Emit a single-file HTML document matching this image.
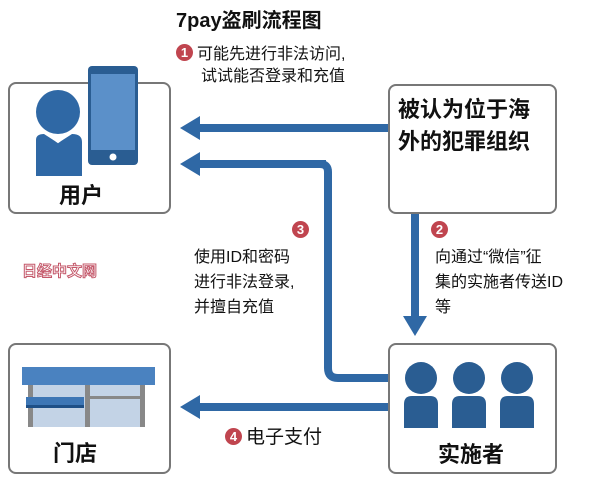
<!DOCTYPE html>
<html><head><meta charset="utf-8"><style>
body{margin:0;background:#fff;width:600px;height:489px;overflow:hidden;position:relative;font-family:"Liberation Sans","Noto Sans CJK SC",sans-serif;}
.t{position:absolute;color:#111;white-space:nowrap;}
.box{position:absolute;border:2px solid #777;border-radius:8px;background:#fff;box-sizing:border-box;}
.n{display:inline-block;width:17px;height:17px;border-radius:50%;background:#c0454f;color:#fff;font-size:13px;font-weight:bold;text-align:center;line-height:17px;vertical-align:2px;margin-right:4px;}
</style></head><body>
<div class="t" style="left:176px;top:4px;font-size:20px;font-weight:bold;">7pay盗刷流程图</div>
<div class="t" style="left:176px;top:44px;font-size:16px;line-height:22px;"><span class="n">1</span>可能先进行非法访问,<br><span style="padding-left:25px">试试能否登录和充值</span></div>

<div class="box" style="left:8px;top:82px;width:163px;height:132px;"></div>
<div class="box" style="left:388px;top:84px;width:169px;height:130px;"></div>
<div class="box" style="left:8px;top:343px;width:163px;height:131px;"></div>
<div class="box" style="left:388px;top:343px;width:169px;height:131px;"></div>

<svg style="position:absolute;left:0;top:0" width="600" height="489">
<rect x="78" y="60" width="70" height="20" fill="#fff"/>
<circle cx="58" cy="112" r="22" fill="#2f68a5"/>
<path d="M36 176 V140 Q36 134 44 134 L58 143 L72 134 Q82 134 82 142 V176Z" fill="#2f68a5"/>
<path d="M46 133 L58 142 L70 133" fill="none" stroke="#fff" stroke-width="2"/>
<rect x="88" y="66" width="50" height="99" rx="4" fill="#2a5d92"/>
<rect x="91" y="74" width="44" height="76" fill="#5b90c9"/>
<circle cx="113" cy="157" r="3.5" fill="#fff"/>
<g fill="#2f68a5">
<rect x="196" y="124" width="192" height="8"/><polygon points="180,128 200,116 200,140"/>
<rect x="196" y="160" width="130" height="8"/><polygon points="180,164 200,152 200,176"/>
<rect x="196" y="403" width="192" height="8"/><polygon points="180,407 200,395 200,419"/>
<rect x="411" y="214" width="8" height="104"/><polygon points="415,336 403,316 427,316"/>
</g>
<path d="M320 164 Q328 164 328 172 V368 Q328 378 338 378 H388" fill="none" stroke="#2f68a5" stroke-width="8"/>
<rect x="22" y="367" width="133" height="18" fill="#4a82c0"/>
<rect x="30" y="385" width="113" height="42" fill="#c3d3e6"/>
<rect x="28" y="385" width="5" height="42" fill="#888"/>
<rect x="85" y="385" width="5" height="42" fill="#888"/>
<rect x="140" y="385" width="5" height="42" fill="#888"/>
<rect x="88" y="396" width="54" height="3" fill="#888"/>
<rect x="26" y="397" width="58" height="10" fill="#3d76b5"/>
<rect x="26" y="405" width="58" height="3" fill="#1e4f86"/>
<g fill="#2a5d92">
<circle cx="421" cy="378" r="16"/><path d="M404 428 V404 Q404 396 412 396 H430 Q438 396 438 404 V428Z"/>
<circle cx="469" cy="378" r="16"/><path d="M452 428 V404 Q452 396 460 396 H478 Q486 396 486 404 V428Z"/>
<circle cx="517" cy="378" r="16"/><path d="M500 428 V404 Q500 396 508 396 H526 Q534 396 534 404 V428Z"/>
</g>
</svg>

<div class="t" style="left:59px;top:178px;font-size:22px;font-weight:bold;">用户</div>
<div class="t" style="left:398px;top:94px;font-size:22px;font-weight:bold;line-height:32px;">被认为位于海<br>外的犯罪组织</div>
<div class="t" style="left:53px;top:436px;font-size:22px;font-weight:bold;">门店</div>
<div class="t" style="left:438px;top:437px;font-size:22px;font-weight:bold;">实施者</div>

<div class="t" style="left:292px;top:221px;"><span class="n">3</span></div>
<div class="t" style="left:194px;top:245px;font-size:16px;line-height:25px;">使用ID和密码<br>进行非法登录,<br>并擅自充值</div>
<div class="t" style="left:431px;top:221px;"><span class="n">2</span></div>
<div class="t" style="left:435px;top:245px;font-size:16px;line-height:25px;">向通过“微信”征<br>集的实施者传送ID<br>等</div>
<div class="t" style="left:225px;top:422px;font-size:19px;"><span class="n">4</span>电子支付</div>
<div class="t" style="left:22px;top:260px;font-size:15px;font-weight:bold;color:#fff;-webkit-text-stroke:1px #c4586a;">日经中文网</div>
</body></html>
